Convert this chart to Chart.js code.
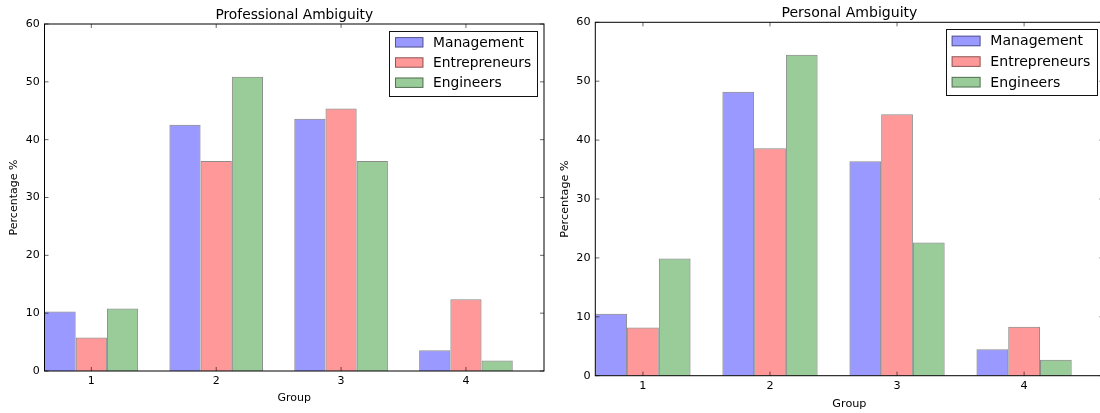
<!DOCTYPE html>
<html>
<head>
<meta charset="utf-8">
<script src="https://cdn.jsdelivr.net/npm/chart.js@4.4.0/dist/chart.umd.min.js"></script>
<style>
html, body { margin: 0; padding: 0; background: #fff; overflow: hidden; width: 1100px; height: 413px; }
canvas { position: absolute; top: 0; }
#c1 { left: 0; }
#c2 { left: 550px; }
</style>
</head>
<body>
<canvas id="c1" width="550" height="413"></canvas>
<canvas id="c2" width="560" height="413"></canvas>
<script>
// ---- data ----
const groups = [1, 2, 3, 4];
const seriesNames = ['Management', 'Entrepreneurs', 'Engineers'];
const professionalManagement    = [10.3, 42.6, 43.6, 3.6];
const professionalEntrepreneurs = [5.8, 36.3, 45.4, 12.4];
const professionalEngineers     = [10.8, 50.9, 36.3, 1.8];
const personalManagement        = [10.5, 48.2, 36.4, 4.5];
const personalEntrepreneurs     = [8.2, 38.6, 44.4, 8.3];
const personalEngineers         = [19.9, 54.5, 22.6, 2.7];
const yTicks = [0, 10, 20, 30, 40, 50, 60];

// ---- styles ----
const FAMILY = '"DejaVu Sans", sans-serif';
const fills = ['rgba(0,0,255,0.4)', 'rgba(255,0,0,0.4)', 'rgba(0,128,0,0.4)'];
const edge = 'rgba(0,0,0,0.45)';

function mplPlugin(title, k) {
  return {
    id: 'mpl',
    afterDraw(chart) {
      const { ctx, chartArea: a, scales: { x, y } } = chart;
      ctx.save();
      // inward ticks
      const tl = 4 * k;
      ctx.strokeStyle = '#000';
      ctx.lineWidth = 0.6;
      ctx.beginPath();
      x.ticks.forEach(t => {
        const px = x.getPixelForValue(t.value);
        ctx.moveTo(px, a.bottom); ctx.lineTo(px, a.bottom - tl);
        ctx.moveTo(px, a.top); ctx.lineTo(px, a.top + tl);
      });
      y.ticks.forEach(t => {
        const py = y.getPixelForValue(t.value);
        ctx.moveTo(a.left, py); ctx.lineTo(a.left + tl, py);
        ctx.moveTo(a.right, py); ctx.lineTo(a.right - tl, py);
      });
      ctx.stroke();
      // spines
      ctx.lineWidth = 1;
      ctx.strokeStyle = '#000';
      ctx.strokeRect(a.left, a.top, a.right - a.left, a.bottom - a.top);
      // title
      ctx.fillStyle = '#000';
      ctx.font = (13.8 * k) + 'px ' + FAMILY;
      ctx.textAlign = 'center';
      ctx.textBaseline = 'alphabetic';
      ctx.fillText(title, (a.left + a.right) / 2, a.top - 5 * k);
      // legend
      const lf = 13.8 * k;
      ctx.font = lf + 'px ' + FAMILY;
      const ds = chart.data.datasets;
      let tw = 0;
      ds.forEach(d => { tw = Math.max(tw, ctx.measureText(d.label).width); });
      const padL = 5.6 * k, sw = 28.4 * k, gap = 9.6 * k, padR = 6 * k;
      const bw = padL + sw + gap + tw + padR;
      const bh = 65 * k;
      const bx = a.right - 6.8 * k - bw;
      const by = a.top + 7 * k;
      ctx.fillStyle = '#fff';
      ctx.fillRect(bx, by, bw, bh);
      ctx.lineWidth = 1;
      ctx.strokeStyle = '#111';
      ctx.strokeRect(Math.round(bx) + 0.5, Math.round(by) + 0.5, Math.round(bw), Math.round(bh));
      ds.forEach((d, i) => {
        const cy = by + (11.3 + i * 20.2) * k;
        const sh = 10.4 * k;
        ctx.fillStyle = '#fff';
        ctx.fillRect(bx + padL, cy - sh / 2, sw, sh);
        ctx.fillStyle = d.backgroundColor;
        ctx.fillRect(bx + padL, cy - sh / 2, sw, sh);
        ctx.strokeStyle = edge;
        ctx.lineWidth = 1;
        ctx.strokeRect(bx + padL + 0.5, cy - sh / 2 + 0.5, sw - 1, sh - 1);
        ctx.fillStyle = '#000';
        ctx.textAlign = 'left';
        ctx.textBaseline = 'alphabetic';
        ctx.fillText(d.label, bx + padL + sw + gap, cy + 4.4 * k);
      });
      ctx.restore();
    }
  };
}

function makeChart(id, title, values, cfg) {
  const k = cfg.k;
  return new Chart(document.getElementById(id), {
    type: 'bar',
    data: {
      labels: groups,
      datasets: seriesNames.map((n, i) => ({
        label: n,
        data: values[i],
        backgroundColor: fills[i],
        borderColor: edge,
        borderWidth: 1
      }))
    },
    options: {
      responsive: false,
      animation: false,
      devicePixelRatio: 1,
      layout: { padding: { left: 0, top: cfg.top, right: cfg.right, bottom: 0 } },
      plugins: { legend: { display: false }, title: { display: false }, tooltip: { enabled: false } },
      datasets: { bar: { categoryPercentage: 0.75, barPercentage: 1.0, grouped: true } },
      scales: {
        x: {
          type: 'linear',
          min: groups[0] - 0.375,
          max: groups[groups.length - 1] + 0.625,
          offset: false,
          afterBuildTicks: s => { s.ticks = groups.map(v => ({ value: v })); },
          afterFit: s => { s.height = cfg.xh; },
          grid: { display: false, drawTicks: false },
          border: { display: false },
          ticks: { font: { family: FAMILY, size: 11 * k }, color: '#000', padding: cfg.xpad,
                   autoSkip: false, maxRotation: 0, callback: v => String(v) },
          title: { display: true, text: 'Group', color: '#000',
                   font: { family: FAMILY, size: 11 * k }, padding: { top: 0, bottom: cfg.xtpad } }
        },
        y: {
          min: yTicks[0],
          max: yTicks[yTicks.length - 1],
          afterBuildTicks: s => { s.ticks = yTicks.map(v => ({ value: v })); },
          afterFit: s => { s.width = cfg.yw; },
          grid: { display: false, drawTicks: false },
          border: { display: false },
          ticks: { font: { family: FAMILY, size: 11 * k }, color: '#000', padding: 4.7 },
          title: { display: true, text: 'Percentage %', color: '#000',
                   font: { family: FAMILY, size: 11 * k }, padding: { top: cfg.ytpad, bottom: 0 } }
        }
      }
    },
    plugins: [mplPlugin(title, k)]
  });
}

makeChart('c1', 'Professional Ambiguity',
  [professionalManagement, professionalEntrepreneurs, professionalEngineers],
  { k: 1.0, top: 24, right: 6, xh: 42, yw: 44.5, xpad: 3.4, xtpad: 8.1, ytpad: 7.8 });

makeChart('c2', 'Personal Ambiguity',
  [personalManagement, personalEntrepreneurs, personalEngineers],
  { k: 1.02, top: 22.3, right: 6.5, xh: 37.3, yw: 45.3, xpad: 3.3, xtpad: 2.3, ytpad: 8.5 });
</script>
</body>
</html>
